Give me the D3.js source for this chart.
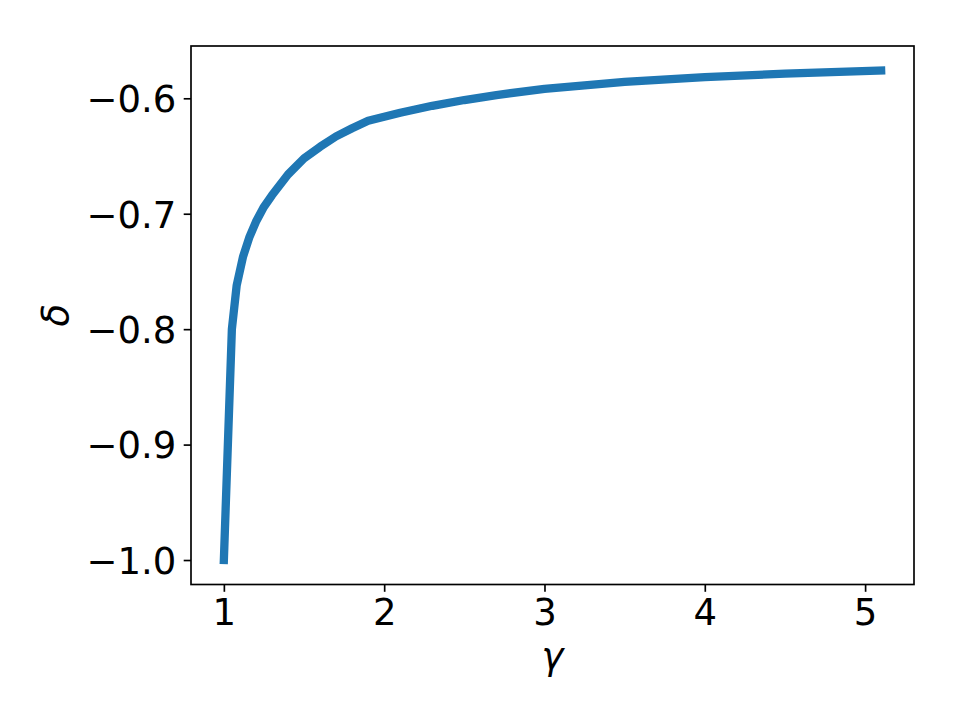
<!DOCTYPE html>
<html>
<head>
<meta charset="utf-8">
<script src="https://cdn.jsdelivr.net/npm/d3@7"></script>
<style>
  html, body { margin: 0; padding: 0; background: #fff; }
  svg { display: block; }
  text { font-family: "DejaVu Sans", sans-serif; }
</style>
</head>
<body>
<svg id="chart" width="960" height="720"></svg>
<script>
// ---- data ----
const gamma = [1.00, 1.05, 1.08, 1.12, 1.16, 1.20, 1.25, 1.30, 1.40, 1.50, 1.60, 1.70, 1.80, 1.90,
               2.10, 2.30, 2.50, 2.70, 3.00, 3.50, 4.00, 4.50, 5.10];
const delta = [-1.000, -0.800, -0.762, -0.737, -0.720, -0.707, -0.694, -0.684, -0.666, -0.652, -0.642, -0.633, -0.626, -0.6195,
               -0.6125, -0.6065, -0.6015, -0.5972, -0.5918, -0.5858, -0.5817, -0.5786, -0.5759];
const xTicks = [1, 2, 3, 4, 5];
const yTicks = [-1.0, -0.9, -0.8, -0.7, -0.6];
const xLabel = "γ";
const yLabel = "δ";

// ---- layout ----
const plotL = 191, plotR = 914, plotT = 46, plotB = 584.5;
const lw = 1.67, tickLen = 7.3, tickPad = 7.3, fs = 37;

const svg = d3.select("#chart");

function padded(arr) {
  const [a, b] = d3.extent(arr);
  const m = (b - a) * 0.05;
  return [a - m, b + m];
}

const x = d3.scaleLinear().domain(padded(gamma)).range([plotL, plotR]);
const y = d3.scaleLinear().domain(padded(delta)).range([plotB, plotT]);

const pts = gamma.map((g, i) => [g, delta[i]]);

// line
svg.append("path")
  .datum(pts)
  .attr("fill", "none")
  .attr("stroke", "#1f77b4")
  .attr("stroke-width", 8.3)
  .attr("stroke-linecap", "square")
  .attr("stroke-linejoin", "round")
  .attr("d", d3.line().x(d => x(d[0])).y(d => y(d[1])).curve(d3.curveLinear));

// axes
const fmtX = d3.format("d");
const fmtY = d3.format(".1f");

const gx = svg.append("g")
  .attr("transform", `translate(0,${plotB})`)
  .call(d3.axisBottom(x).tickValues(xTicks).tickFormat(fmtX)
        .tickSizeInner(tickLen).tickSizeOuter(0).tickPadding(tickPad));
const gy = svg.append("g")
  .attr("transform", `translate(${plotL},0)`)
  .call(d3.axisLeft(y).tickValues(yTicks).tickFormat(fmtY)
        .tickSizeInner(tickLen).tickSizeOuter(0).tickPadding(tickPad));

[gx, gy].forEach(g => {
  g.select(".domain").remove();
  g.selectAll(".tick line").attr("stroke", "#000").attr("stroke-width", lw);
  g.selectAll(".tick text")
    .attr("fill", "#000")
    .style("font-family", '"DejaVu Sans", sans-serif')
    .style("font-size", fs + "px");
});
gx.selectAll(".tick text").attr("dy", "0.69em");
gy.selectAll(".tick text").attr("dy", "0.36em");

// frame (spines)
svg.append("rect")
  .attr("x", plotL).attr("y", plotT)
  .attr("width", plotR - plotL).attr("height", plotB - plotT)
  .attr("fill", "none")
  .attr("stroke", "#000")
  .attr("stroke-width", lw);

// axis labels
svg.append("text")
  .attr("x", (plotL + plotR) / 2)
  .attr("y", 669)
  .attr("text-anchor", "middle")
  .style("font-family", '"DejaVu Sans", sans-serif')
  .style("font-style", "italic")
  .style("font-size", fs + "px")
  .text(xLabel);

svg.append("text")
  .attr("transform", `translate(68,${(plotT + plotB) / 2}) rotate(-90)`)
  .attr("text-anchor", "middle")
  .style("font-family", '"DejaVu Sans", sans-serif')
  .style("font-style", "italic")
  .style("font-size", fs + "px")
  .text(yLabel);
</script>
</body>
</html>
